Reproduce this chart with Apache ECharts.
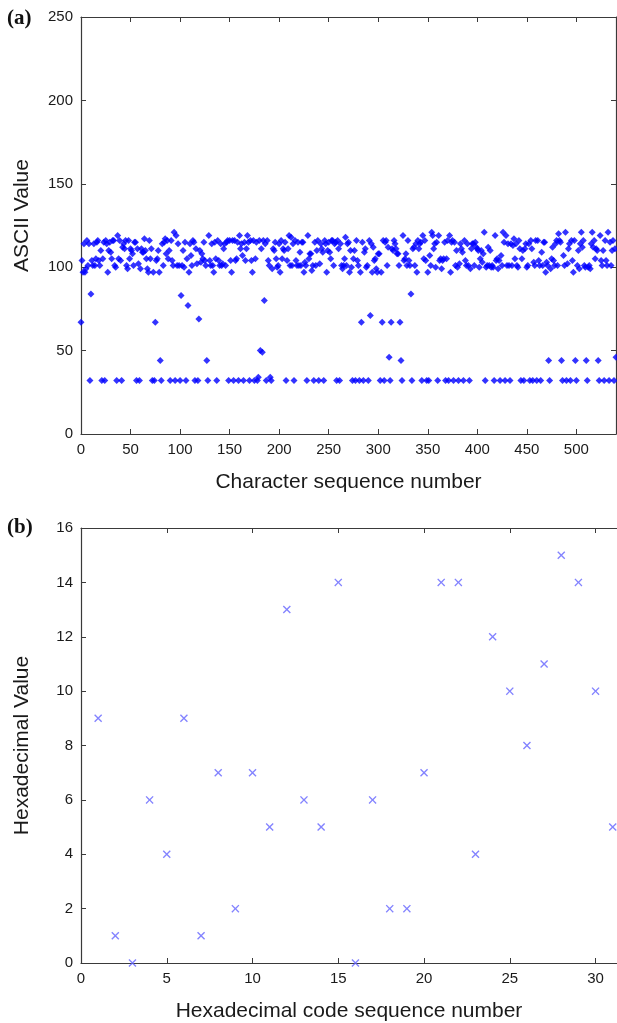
<!DOCTYPE html>
<html>
<head>
<meta charset="utf-8">
<script src="https://cdn.jsdelivr.net/npm/echarts@6/dist/echarts.min.js"></script>
<style>
  html, body { margin: 0; padding: 0; background: #ffffff; }
  #chart { width: 617px; height: 1023px; }
</style>
</head>
<body>
<div id="chart"></div>
<script>
// ASCII codes of the message characters, in sequence order (index 0..540)
const asciiCodes000 = [
  67, 104, 97, 114, 97, 99, 116, 101, 114, 32,
  84, 104, 101, 114, 101, 105, 115, 116, 104, 101, 110, 32,
  105, 115, 32,
  116, 114, 97, 110, 115, 109, 105, 116, 116, 101, 100, 32,
  119, 105, 116, 104, 32,
  112, 114, 111, 116, 101, 99, 116, 105, 111, 110, 108, 101, 115, 115, 32,
  111, 102, 32,
  99, 111, 109, 109, 117, 110, 105, 99, 97, 116, 105, 111, 32,
  97, 32,
  67, 104, 105, 110, 97, 44, 32,
  114, 101, 115, 117, 108, 116, 105, 110, 32,
  116, 104, 101, 121, 32,
  119, 101, 114, 101
];
const asciiCodes100 = [
  32, 83, 101, 110, 100, 115, 32,
  105, 77, 97, 114, 107, 101, 116, 115, 32,
  111, 102, 32,
  69, 110, 103, 108, 105, 115, 104, 101, 44, 32,
  119, 104, 101, 114, 101, 97, 115, 105, 32,
  116, 104, 101, 114, 101, 102, 111, 114, 101, 115, 116, 32,
  116, 104, 97, 116, 32,
  116, 104, 105, 115, 32,
  119, 111, 114, 107, 32,
  115, 104, 111, 119, 115, 32,
  116, 104, 97, 116, 32,
  105, 115, 32,
  34, 116, 50, 111, 49, 116, 80, 114, 32,
  116, 104, 101, 34, 32,
  99, 111, 110, 115, 105, 100, 101
];
const asciiCodes200 = [
  114, 97, 116, 105, 111, 110, 115, 32,
  104, 111, 119, 101, 118, 101, 114, 32,
  116, 104, 101, 115, 101, 109, 101, 115, 115, 97, 103, 101, 32,
  119, 105, 108, 108, 98, 101, 32,
  115, 101, 110, 116, 32,
  102, 114, 111, 109, 32,
  116, 114, 97, 110, 115, 109, 105, 116, 116, 101, 114, 115, 32,
  116, 111, 32,
  114, 101, 99, 101, 105, 118, 101, 114, 115, 97, 110, 100, 32,
  105, 110, 32,
  116, 104, 101, 32,
  97, 67, 115, 32,
  109, 111, 100, 101, 32,
  116, 71, 114, 97, 112, 104, 105, 99, 97
];
const asciiCodes300 = [
  108, 108, 32,
  97, 67, 116, 32,
  115, 116, 101, 112, 46, 32,
  67, 111, 110, 116, 114, 111, 108, 108, 101, 67, 44, 32,
  119, 104, 105, 108, 101, 116, 104, 101, 84, 32,
  111, 112, 101, 114, 97, 116, 111, 114, 115, 32,
  119, 105, 116, 104, 32,
  97, 32,
  107, 101, 121, 119, 111, 114, 100, 115, 32,
  119, 104, 105, 99, 104, 105, 115, 32,
  105, 116, 32,
  119, 97, 115, 116, 32,
  115, 101, 110, 100, 32,
  102, 114, 111, 109, 32,
  116, 104, 101, 114, 101, 32,
  99, 111, 114, 114, 101, 115, 112
];
const asciiCodes400 = [
  111, 110, 100, 105, 110, 103, 108, 121, 32,
  100, 101, 112, 101, 110, 100, 101, 100, 32,
  119, 104, 105, 99, 104, 32,
  107, 101, 121, 115, 32,
  119, 101, 114, 101, 32,
  114, 101, 113, 117, 105, 114, 101, 100, 116, 111, 32,
  105, 110, 32,
  111, 114, 100, 101, 114, 32,
  116, 111, 32,
  103, 101, 116, 32,
  116, 104, 101, 32,
  109, 101, 115, 115, 97, 103, 101, 44, 32,
  99, 105, 112, 104, 101, 114, 116, 101, 120, 116, 115, 44, 32,
  107, 101, 121, 32,
  102, 111, 114, 32,
  116, 104, 97, 116, 44
];
const asciiCodes500 = [
  32,
  101, 110, 99, 114, 121, 112, 116, 101, 100, 44, 32,
  100, 101, 99, 114, 121, 112, 116, 105, 111, 110, 44, 32,
  119, 104, 101, 110, 32,
  116, 104, 101, 121, 32,
  115, 101, 110, 116, 32,
  111, 46
];

// Hexadecimal digits of the encoded message (sequence numbers 1..31)
const hexSequence = [1, 2, 3, 4, 5, 6, 7, 8, 9, 10, 11, 12, 13, 14, 15, 16,
                     17, 18, 19, 20, 21, 22, 23, 24, 25, 26, 27, 28, 29, 30, 31];
const hexValues = [9, 1, 0, 6, 4, 9, 1, 7, 2, 7, 5, 13, 6, 5, 14, 0,
                   6, 2, 2, 7, 14, 14, 4, 12, 10, 8, 11, 15, 14, 10, 5];

// Axis tick labels
const asciiXTicks = [0, 50, 100, 150, 200, 250, 300, 350, 400, 450, 500];
const asciiYTicks = [0, 50, 100, 150, 200, 250];
const hexXTicks = [0, 5, 10, 15, 20, 25, 30];
const hexYTicks = [0, 2, 4, 6, 8, 10, 12, 14, 16];

const asciiCodes = [].concat(asciiCodes000, asciiCodes100, asciiCodes200,
                             asciiCodes300, asciiCodes400, asciiCodes500);

const FONT = '"Liberation Sans", Arial, Helvetica, sans-serif';
const LINE = '#3a3a3a';
const TEXT = '#1a1a1a';

function makeAxis(opts) {
  const ticks = opts.ticks;
  return {
    type: 'value',
    gridIndex: opts.grid,
    position: opts.position,
    min: ticks[0],
    max: opts.max,
    interval: ticks[1] - ticks[0],
    axisLine: { show: true, onZero: false, lineStyle: { color: LINE, width: 1.2 } },
    axisTick: { show: true, inside: true, length: 5, lineStyle: { color: LINE, width: 1 } },
    splitLine: { show: false },
    axisLabel: {
      show: !!opts.labels,
      margin: 8,
      color: TEXT,
      fontSize: 15,
      fontFamily: FONT,
      showMaxLabel: opts.showMax !== false,
      formatter: function (v) { return ticks.indexOf(v) >= 0 ? String(v) : ''; }
    },
    name: opts.name || '',
    nameLocation: 'middle',
    nameGap: opts.nameGap || 0,
    nameTextStyle: { color: TEXT, fontSize: 21, fontFamily: FONT, padding: opts.namePad || 0 }
  };
}

// X-shaped marker for the hexadecimal plot
const CROSS = 'path://M0,1.2L1.2,0L5,3.8L8.8,0L10,1.2L6.2,5L10,8.8L8.8,10L5,6.2L1.2,10L0,8.8L3.8,5Z';

const chart = echarts.init(document.getElementById('chart'), null, { renderer: 'canvas' });

chart.setOption({
  animation: false,
  backgroundColor: '#ffffff',
  grid: [
    { left: 81, top: 17, width: 535, height: 417 },
    { left: 81, top: 528, width: 536, height: 435 }
  ],
  xAxis: [
    makeAxis({ grid: 0, position: 'bottom', ticks: asciiXTicks, max: 540, labels: true, showMax: false,
               name: 'Character sequence number', nameGap: 38 }),
    makeAxis({ grid: 0, position: 'top', ticks: asciiXTicks, max: 540 }),
    makeAxis({ grid: 1, position: 'bottom', ticks: hexXTicks, max: 31.25, labels: true, showMax: false,
               name: 'Hexadecimal code sequence number', nameGap: 38 }),
    makeAxis({ grid: 1, position: 'top', ticks: hexXTicks, max: 31.25 })
  ],
  yAxis: [
    makeAxis({ grid: 0, position: 'left', ticks: asciiYTicks, max: 250, labels: true,
               name: 'ASCII Value', nameGap: 48, namePad: [0, 0, 0, 20] }),
    makeAxis({ grid: 0, position: 'right', ticks: asciiYTicks, max: 250 }),
    makeAxis({ grid: 1, position: 'left', ticks: hexYTicks, max: 16, labels: true,
               name: 'Hexadecimal Value', nameGap: 48 })
  ],
  series: [
    {
      type: 'scatter',
      xAxisIndex: 0,
      yAxisIndex: 0,
      symbol: 'diamond',
      symbolSize: 7,
      clip: false,
      itemStyle: { color: '#0000ff' },
      data: asciiCodes.map(function (v, i) { return [i, v]; })
    },
    {
      type: 'scatter',
      xAxisIndex: 2,
      yAxisIndex: 2,
      symbol: CROSS,
      symbolSize: 8,
      clip: false,
      itemStyle: { color: '#6464ff' },
      data: hexSequence.map(function (n, i) { return [n, hexValues[i]]; })
    }
  ],
  graphic: [
    { type: 'text', left: 7, top: 8,
      style: { text: '(a)', fill: '#111', font: 'bold 21px "Liberation Serif", "Times New Roman", serif' } },
    { type: 'text', left: 7, top: 517,
      style: { text: '(b)', fill: '#111', font: 'bold 21px "Liberation Serif", "Times New Roman", serif' } }
  ]
});
</script>
</body>
</html>
